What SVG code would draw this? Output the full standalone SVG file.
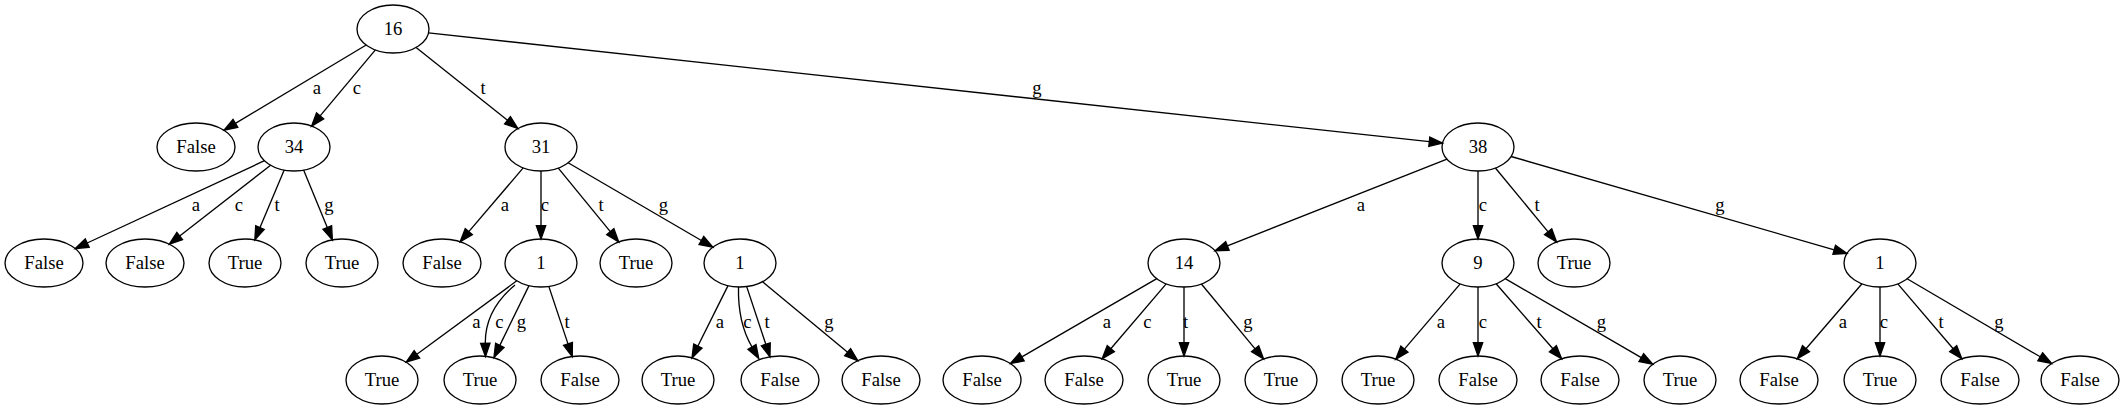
<svg xmlns="http://www.w3.org/2000/svg" width="2125" height="411" viewBox="0 0 2125 411">
<style>
.n ellipse{fill:none;stroke:#000;stroke-width:1.33}
.n text{font-family:"Liberation Serif",serif;font-size:18.67px;text-anchor:middle;fill:#000}
#edges path{fill:none;stroke:#000;stroke-width:1.33;marker-end:url(#ah)}
#edges text{font-family:"Liberation Serif",serif;font-size:18.67px;text-anchor:middle;fill:#000}
</style>
<defs>
<marker id="ah" markerUnits="userSpaceOnUse" markerWidth="14" markerHeight="10" refX="0" refY="4.67" orient="auto" overflow="visible">
<path d="M0,0 L13.3,4.67 L0,9.33 z" fill="#000" stroke="#000" stroke-width="1.33"/>
</marker>
</defs>
<rect width="2125" height="411" fill="#fff"/>
<g id="edges">
<path d="M366.2,45 L235.4,123.4"/><text x="317" y="94">a</text>
<path d="M375.4,49.9 L320.1,115.9"/><text x="357" y="94">c</text>
<path d="M416.1,47.4 L507.5,120.3"/><text x="483" y="94">t</text>
<path d="M428.5,32.9 L1429.3,141.7"/><text x="1037" y="94">g</text>

<path d="M264.5,160.7 L87.2,243"/><text x="196" y="210.5">a</text>
<path d="M270.6,165.2 L179.7,236"/><text x="239" y="210.5">c</text>
<path d="M284.2,170.1 L260,227.6"/><text x="277" y="210.5">t</text>
<path d="M303.6,170.1 L327.3,227.6"/><text x="329" y="210.5">g</text>

<path d="M523.2,167.9 L468.8,231.6"/><text x="505" y="210.5">a</text>
<path d="M541,171 L541,225.7"/><text x="545" y="210.5">c</text>
<path d="M558.3,168.1 L610.3,231.6"/><text x="601" y="210.5">t</text>
<path d="M568.1,162.8 L701.4,240.5"/><text x="663.5" y="210.5">g</text>

<path d="M1447,159.2 L1227.4,245.9"/><text x="1361" y="210.5">a</text>
<path d="M1478,171 L1478,225.7"/><text x="1483" y="210.5">c</text>
<path d="M1495.4,168 L1548.1,231.8"/><text x="1537" y="210.5">t</text>
<path d="M1511.1,156.5 L1834.2,249.8"/><text x="1720" y="210.5">g</text>

<path d="M516.8,280.8 L416.9,354.3"/><text x="476.5" y="328">a</text>
<path d="M515,285 C497,300 485,318 485.3,343.3"/><text x="499.5" y="328">c</text>
<path d="M529,285.6 L499.8,345.4"/><text x="521.5" y="328">g</text>
<path d="M548.8,286.4 L568,343.9"/><text x="567" y="328">t</text>

<path d="M728,285.6 L697.9,346"/><text x="720" y="328">a</text>
<path d="M738.5,287 C738,310 742,330 752,347"/><text x="747.5" y="328">c</text>
<path d="M746.7,286.6 L765.8,344.3"/><text x="767" y="328">t</text>
<path d="M762.5,281.7 L847.6,352.2"/><text x="829" y="328">g</text>

<path d="M1156.8,278.7 L1021.9,356.9"/><text x="1107" y="328">a</text>
<path d="M1166.2,283.9 L1110.8,348.7"/><text x="1147.5" y="328">c</text>
<path d="M1184,287 L1184,342.7"/><text x="1185.5" y="328">t</text>
<path d="M1201.4,284 L1255.1,348.8"/><text x="1248" y="328">g</text>

<path d="M1460.2,283.9 L1404.4,349.1"/><text x="1441" y="328">a</text>
<path d="M1478,287 L1478,342.7"/><text x="1483" y="328">c</text>
<path d="M1496.1,283.8 L1552.9,348.8"/><text x="1539" y="328">t</text>
<path d="M1505.2,278.7 L1641.3,357.6"/><text x="1601.5" y="328">g</text>

<path d="M1862,283.8 L1806,348.7"/><text x="1843" y="328">a</text>
<path d="M1880,287 L1880,342.7"/><text x="1884" y="328">c</text>
<path d="M1897.8,283.9 L1953.2,348.7"/><text x="1941" y="328">t</text>
<path d="M1907.1,278.8 L2040.2,356.8"/><text x="1999" y="328">g</text>
</g>

<g id="n16" class="n"><ellipse cx="393" cy="29" rx="36" ry="24"/><text x="393" y="35">16</text></g>
<g id="n_false_a" class="n"><ellipse cx="196" cy="147" rx="39" ry="24"/><text x="196" y="153">False</text></g>
<g id="n34" class="n"><ellipse cx="294" cy="147" rx="36" ry="24"/><text x="294" y="153">34</text></g>
<g id="n31" class="n"><ellipse cx="541" cy="147" rx="36" ry="24"/><text x="541" y="153">31</text></g>
<g id="n38" class="n"><ellipse cx="1478" cy="147" rx="36" ry="24"/><text x="1478" y="153">38</text></g>

<g id="n34_a" class="n"><ellipse cx="44" cy="263" rx="39" ry="24"/><text x="44" y="269">False</text></g>
<g id="n34_c" class="n"><ellipse cx="145" cy="263" rx="39" ry="24"/><text x="145" y="269">False</text></g>
<g id="n34_t" class="n"><ellipse cx="245" cy="263" rx="36" ry="24"/><text x="245" y="269">True</text></g>
<g id="n34_g" class="n"><ellipse cx="342" cy="263" rx="36" ry="24"/><text x="342" y="269">True</text></g>
<g id="n31_a" class="n"><ellipse cx="442" cy="263" rx="39" ry="24"/><text x="442" y="269">False</text></g>
<g id="n31_c" class="n"><ellipse cx="541" cy="263" rx="36" ry="24"/><text x="541" y="269">1</text></g>
<g id="n31_t" class="n"><ellipse cx="636" cy="263" rx="36" ry="24"/><text x="636" y="269">True</text></g>
<g id="n31_g" class="n"><ellipse cx="740" cy="263" rx="36" ry="24"/><text x="740" y="269">1</text></g>
<g id="n14" class="n"><ellipse cx="1184" cy="263" rx="36" ry="24"/><text x="1184" y="269">14</text></g>
<g id="n9" class="n"><ellipse cx="1478" cy="263" rx="36" ry="24"/><text x="1478" y="269">9</text></g>
<g id="n38_t" class="n"><ellipse cx="1574" cy="263" rx="36" ry="24"/><text x="1574" y="269">True</text></g>
<g id="n38_g" class="n"><ellipse cx="1880" cy="263" rx="36" ry="24"/><text x="1880" y="269">1</text></g>

<g id="n31c_a" class="n"><ellipse cx="382" cy="380" rx="36" ry="24"/><text x="382" y="386">True</text></g>
<g id="n31c_cg" class="n"><ellipse cx="480" cy="380" rx="36" ry="24"/><text x="480" y="386">True</text></g>
<g id="n31c_t" class="n"><ellipse cx="580" cy="380" rx="39" ry="24"/><text x="580" y="386">False</text></g>
<g id="n31g_a" class="n"><ellipse cx="678" cy="380" rx="36" ry="24"/><text x="678" y="386">True</text></g>
<g id="n31g_ct" class="n"><ellipse cx="780" cy="380" rx="39" ry="24"/><text x="780" y="386">False</text></g>
<g id="n31g_g" class="n"><ellipse cx="881" cy="380" rx="39" ry="24"/><text x="881" y="386">False</text></g>
<g id="n14_a" class="n"><ellipse cx="982" cy="380" rx="39" ry="24"/><text x="982" y="386">False</text></g>
<g id="n14_c" class="n"><ellipse cx="1084" cy="380" rx="39" ry="24"/><text x="1084" y="386">False</text></g>
<g id="n14_t" class="n"><ellipse cx="1184" cy="380" rx="36" ry="24"/><text x="1184" y="386">True</text></g>
<g id="n14_g" class="n"><ellipse cx="1281" cy="380" rx="36" ry="24"/><text x="1281" y="386">True</text></g>
<g id="n9_a" class="n"><ellipse cx="1378" cy="380" rx="36" ry="24"/><text x="1378" y="386">True</text></g>
<g id="n9_c" class="n"><ellipse cx="1478" cy="380" rx="39" ry="24"/><text x="1478" y="386">False</text></g>
<g id="n9_t" class="n"><ellipse cx="1580" cy="380" rx="39" ry="24"/><text x="1580" y="386">False</text></g>
<g id="n9_g" class="n"><ellipse cx="1680" cy="380" rx="36" ry="24"/><text x="1680" y="386">True</text></g>
<g id="n38g_a" class="n"><ellipse cx="1779" cy="380" rx="39" ry="24"/><text x="1779" y="386">False</text></g>
<g id="n38g_c" class="n"><ellipse cx="1880" cy="380" rx="36" ry="24"/><text x="1880" y="386">True</text></g>
<g id="n38g_t" class="n"><ellipse cx="1980" cy="380" rx="39" ry="24"/><text x="1980" y="386">False</text></g>
<g id="n38g_g" class="n"><ellipse cx="2080" cy="380" rx="39" ry="24"/><text x="2080" y="386">False</text></g>
</svg>
